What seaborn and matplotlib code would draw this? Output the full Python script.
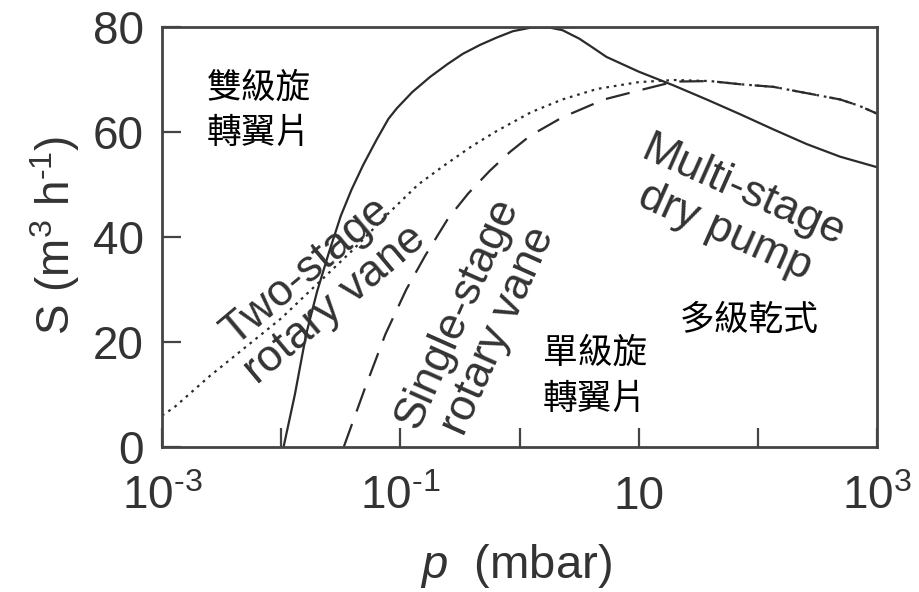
"""Pumping speed vs. pressure for three kinds of backing pump (seaborn)."""
import numpy as np
import pandas as pd
import matplotlib
matplotlib.use("Agg")
import matplotlib.pyplot as plt
import seaborn as sns

# curves: log10(p / mbar) and S (m3/h)
two_stage_logp = [-1.98, -1.885, -1.79, -1.7, -1.6, -1.5, -1.41, -1.31, -1.2, -1.1,
                  -1.03, -0.9, -0.75, -0.6, -0.475, -0.33, -0.19, -0.055, 0.1, 0.25,
                  0.36, 0.5, 0.6, 0.73, 1.0, 1.29, 1.57, 1.85, 2.13, 2.41, 2.69, 3.0]
two_stage_S = [0, 10, 21.5, 29.5, 37, 44, 49, 53.8, 58.5, 62.5,
               64.5, 67.6, 70.5, 73, 74.9, 76.6, 78, 79.2, 79.9, 79.9,
               79.4, 77.8, 76.3, 74.3, 71.5, 68.9, 66.2, 63.4, 60.5, 57.7, 55.3, 53.3]

single_stage_logp = [-1.475, -1.3, -1.125, -0.95, -0.79, -0.6, -0.43, -0.25, -0.08, 0.09,
                     0.36, 0.71, 1.07, 1.3, 1.6, 1.85, 2.13, 2.41, 2.69, 2.85, 3.0]
single_stage_S = [0, 11, 21.5, 30, 36.5, 43.5, 48.3, 52.6, 56.2, 59.3,
                  62.8, 66.2, 68.3, 69.6, 69.7, 69.1, 68.6, 67.4, 66.2, 65, 63.5]

multi_stage_logp = [-3.0, -2.9, -2.6, -2.3, -2.0, -1.7, -1.4, -1.1, -0.85, -0.64,
                    -0.4, -0.19, 0.1, 0.36, 0.65, 1.0, 1.3, 1.6, 1.85, 2.13,
                    2.41, 2.69, 2.85, 3.0]
multi_stage_S = [6, 7.5, 13.5, 19, 24.5, 31, 37.5, 44.5, 50, 53.5,
                 57.3, 60.2, 63.8, 66.2, 68.2, 69.5, 69.9, 69.7, 69.1, 68.6,
                 67.4, 66.2, 65, 63.5]

x_tick_exp = [-3, -2, -1, 0, 1, 2, 3]
x_tick_labels = [r"$10^{\text{-}3}$", "", r"$10^{\text{-}1}$", "", "10", "", "$10^{3}$"]
y_ticks = [0, 20, 40, 60, 80]

sns.set_style("ticks")
plt.rcParams["font.family"] = ["Liberation Sans", "Noto Sans CJK TC", "DejaVu Sans"]
plt.rcParams["mathtext.fontset"] = "custom"
plt.rcParams["mathtext.rm"] = "Liberation Sans"
plt.rcParams["mathtext.it"] = "Liberation Sans:italic"
plt.rcParams["axes.unicode_minus"] = False

ink = "#2b2b2b"
grey = "#333333"
fig = plt.figure(figsize=(9.19, 5.92), dpi=100)
ax = fig.add_axes([162 / 919, 145 / 592, 715 / 919, 420 / 592])

curves = [
    (two_stage_logp, two_stage_S, "-"),
    (single_stage_logp, single_stage_S, (0, (11, 6))),
    (multi_stage_logp, multi_stage_S, (0, (1.2, 2.2))),
]
for logp, S, ls in curves:
    df = pd.DataFrame({"p": 10.0 ** np.array(logp), "S": S})
    sns.lineplot(data=df, x="p", y="S", ax=ax, color=ink, linestyle=ls,
                 linewidth=1.6, sort=False, estimator=None)

ax.set_xscale("log")
ax.set_xlim(1e-3, 1e3)
ax.set_ylim(0, 80)
ax.set_xticks([10.0 ** e for e in x_tick_exp])
ax.set_xticklabels(x_tick_labels)
ax.xaxis.set_minor_locator(matplotlib.ticker.NullLocator())
ax.set_yticks(y_ticks)
ax.tick_params(direction="in", length=14, width=1.6, color="#444444",
               labelsize=33, labelcolor=grey)
ax.tick_params(axis="x", pad=20)
ax.tick_params(axis="y", pad=13)
for sp in ax.spines.values():
    sp.set_visible(True)
    sp.set_linewidth(2)
    sp.set_color("#444444")

ax.set_xlabel("$p$  (mbar)", fontsize=34, color=grey)
ax.set_ylabel(r"S (m$^3$ h$^{\text{-}1}$)", fontsize=33, color=grey)
ax.xaxis.set_label_coords(0.495, -0.225)
ax.yaxis.set_label_coords(-0.112, 0.505)

# curve names, rotated along the curves
eng = dict(transform=ax.transAxes, fontsize=32, color=grey,
           ha="center", va="center", multialignment="center", linespacing=1.1)
ax.text(0.222, 0.379, "Two-stage\nrotary vane", rotation=40, **eng)
ax.text(0.442, 0.298, "Single-stage\nrotary vane", rotation=66, **eng)
ax.text(0.800, 0.560, "Multi-stage\ndry pump", rotation=-24, **eng)

# chinese labels
cjk = dict(transform=ax.transAxes, fontsize=25, color="black",
           family=["Noto Sans CJK TC"], ha="left", va="center", linespacing=1.4)
ax.text(0.063, 0.80, "雙級旋\n轉翼片", **cjk)
ax.text(0.533, 0.169, "單級旋\n轉翼片", **cjk)
ax.text(0.724, 0.302, "多級乾式", **cjk)

fig.savefig("out.png", dpi=100)
